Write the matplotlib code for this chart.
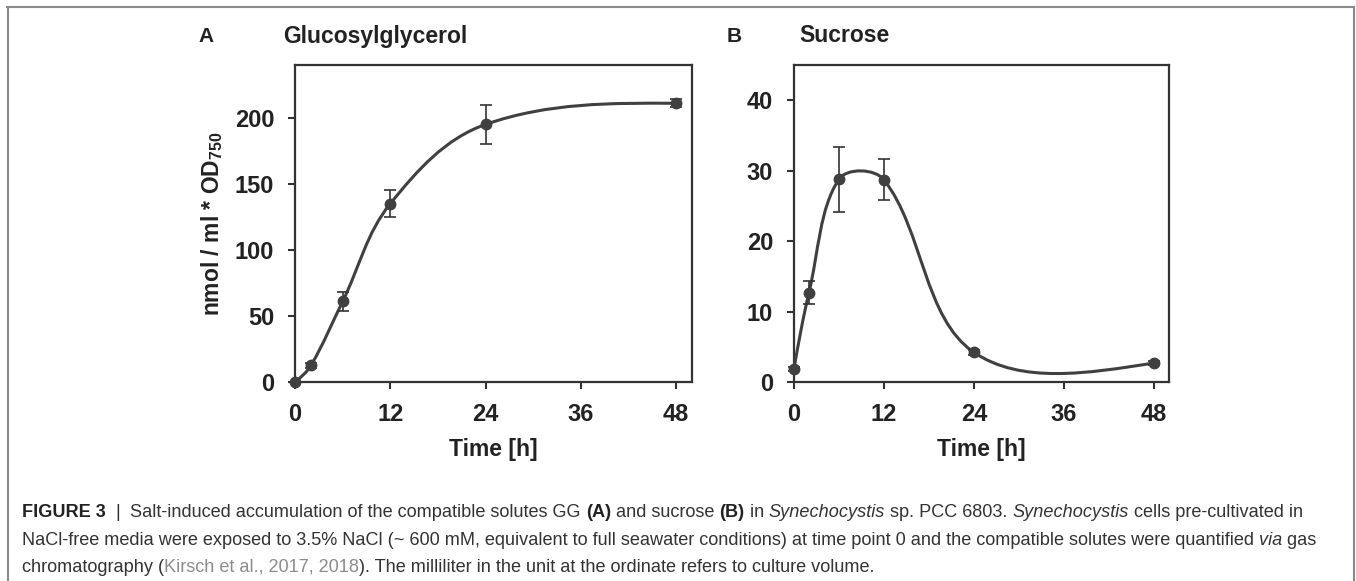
import numpy as np
import matplotlib
matplotlib.use('Agg')
import matplotlib.pyplot as plt
from matplotlib.path import Path
from matplotlib.patches import PathPatch
from matplotlib.lines import Line2D

plt.rcParams['font.family'] = ['Liberation Sans', 'DejaVu Sans']
plt.rcParams['mathtext.fontset'] = 'custom'
plt.rcParams['mathtext.bf'] = 'Liberation Sans:bold'
plt.rcParams['mathtext.rm'] = 'Liberation Sans:bold'

# data
time_h = [0, 2, 6, 12, 24, 48]
gg = [0, 12.5, 61, 135, 195, 211]
gg_err = [0, 2, 7.5, 10, 15, 3]
sucrose = [1.9, 12.7, 28.8, 28.7, 4.2, 2.7]
sucrose_err = [0.3, 1.6, 4.6, 2.9, 0.4, 0.3]

x_ticks = [0, 12, 24, 36, 48]
gg_yticks = [0, 50, 100, 150, 200]
suc_yticks = [0, 10, 20, 30, 40]

W, H = 1356, 581
dark = '#222222'
line_col = '#404040'


def smooth_path(ax, x, y, k=0.36):
    # excel-like smoothed line: cubic bezier through the points
    pts = ax.transData.transform(np.column_stack([x, y]))
    n = len(pts)
    before = [None]*n
    after = [None]*n
    for i in range(1, n-1):
        d = pts[i+1]-pts[i-1]
        lp = np.hypot(*(pts[i]-pts[i-1]))
        ln = np.hypot(*(pts[i+1]-pts[i]))
        before[i] = pts[i] - d*lp/(lp+ln)*k
        after[i] = pts[i] + d*ln/(lp+ln)*k
    after[0] = pts[0] + (before[1]-pts[0])*0.5
    before[-1] = pts[-1] + (after[-2]-pts[-1])*0.5
    verts = [pts[0]]
    codes = [Path.MOVETO]
    for i in range(n-1):
        verts += [after[i], before[i+1], pts[i+1]]
        codes += [Path.CURVE4]*3
    verts = ax.transData.inverted().transform(np.array(verts))
    return Path(verts, codes)


fig = plt.figure(figsize=(W/100, H/100), dpi=100)
axA = fig.add_axes([295/W, 1-382/H, (692-295)/W, (382-65)/H])
axB = fig.add_axes([794/W, 1-382/H, (1169-794)/W, (382-65)/H])

panels = [(axA, gg, gg_err, gg_yticks, 240),
          (axB, sucrose, sucrose_err, suc_yticks, 45)]
for ax, vals, errs, yt, ymax in panels:
    ax.set_xlim(0, 50)
    ax.set_ylim(0, ymax)
    ax.set_xticks(x_ticks)
    ax.set_yticks(yt)
    for sp in ax.spines.values():
        sp.set_linewidth(1.6)
        sp.set_color('#333333')
    ax.tick_params(direction='out', length=5, width=1.5, color='#333333',
                   labelsize=17, labelcolor=dark, pad=10)
    for lab in ax.get_xticklabels() + ax.get_yticklabels():
        lab.set_fontweight('bold')
    ax.set_xlabel('Time [h]', fontsize=16.5, fontweight='bold', color=dark, labelpad=9)
    ax.add_patch(PathPatch(smooth_path(ax, time_h, vals), facecolor='none',
                           edgecolor=line_col, lw=2.2, zorder=3, clip_on=False))
    ax.errorbar(time_h, vals, yerr=errs, fmt='o', color=line_col, ms=7.5,
                ecolor='#333333', elinewidth=1.2, capsize=4, capthick=1.2,
                zorder=4, clip_on=False)

axA.set_ylabel(r'nmol / ml * OD$_{\mathbf{750}}$', fontsize=16.5, fontweight='bold',
               color=dark, labelpad=7)

fig.text(198/W, 1-36/H, 'A', fontsize=15, fontweight='bold', color=dark, va='center')
fig.text(283/W, 1-36/H, 'Glucosylglycerol', fontsize=16.5, fontweight='bold', color=dark, va='center')
fig.text(727/W, 1-36/H, 'B', fontsize=15, fontweight='bold', color=dark, va='center')
fig.text(799/W, 1-36/H, 'Sucrose', fontsize=16.5, fontweight='bold', color=dark, va='center')

# frame
frame = '#8a8a8a'
fig.add_artist(Line2D([7/W, 1353.5/W], [1-7/H, 1-7/H], color=frame, lw=1.5, transform=fig.transFigure))
fig.add_artist(Line2D([7.5/W, 7.5/W], [0, 1-7/H], color=frame, lw=1.5, transform=fig.transFigure))
fig.add_artist(Line2D([1353.5/W, 1353.5/W], [0, 1-7/H], color=frame, lw=1.5, transform=fig.transFigure))

# caption
cap_size = 13.1
styles = {
    'n': dict(color='#333333'),
    'b': dict(color='#222222', fontweight='bold'),
    'i': dict(color='#333333', style='italic'),
    'g': dict(color='#8c8c8c'),
}
cap_lines = [
    [('FIGURE 3', 'b'), ('  |  ', 'n'),
     ('Salt-induced accumulation of the compatible solutes GG ', 'n'), ('(A)', 'b'),
     (' and sucrose ', 'n'), ('(B)', 'b'), (' in ', 'n'), ('Synechocystis', 'i'),
     (' sp. PCC 6803. ', 'n'), ('Synechocystis', 'i'), (' cells pre-cultivated in', 'n')],
    [('NaCl-free media were exposed to 3.5% NaCl (~ 600 mM, equivalent to full seawater '
      'conditions) at time point 0 and the compatible solutes were quantified ', 'n'),
     ('via', 'i'), (' gas', 'n')],
    [('chromatography (', 'n'), ('Kirsch et al., 2017, 2018', 'g'),
     ('). The milliliter in the unit at the ordinate refers to culture volume.', 'n')],
]
cap_y = [517, 545, 572]

renderer = fig.canvas.get_renderer()


def text_width(s, st):
    t1 = fig.text(0, 0, 'x' + s + 'x', fontsize=cap_size, **st)
    t2 = fig.text(0, 0, 'xx', fontsize=cap_size, **st)
    w = t1.get_window_extent(renderer).width - t2.get_window_extent(renderer).width
    t1.remove()
    t2.remove()
    return w


for parts, yl in zip(cap_lines, cap_y):
    x = 22
    for s, key in parts:
        fig.text(x/W, 1-yl/H, s, fontsize=cap_size, va='baseline', ha='left', **styles[key])
        x += text_width(s, styles[key])

fig.savefig('out.png', dpi=100)
